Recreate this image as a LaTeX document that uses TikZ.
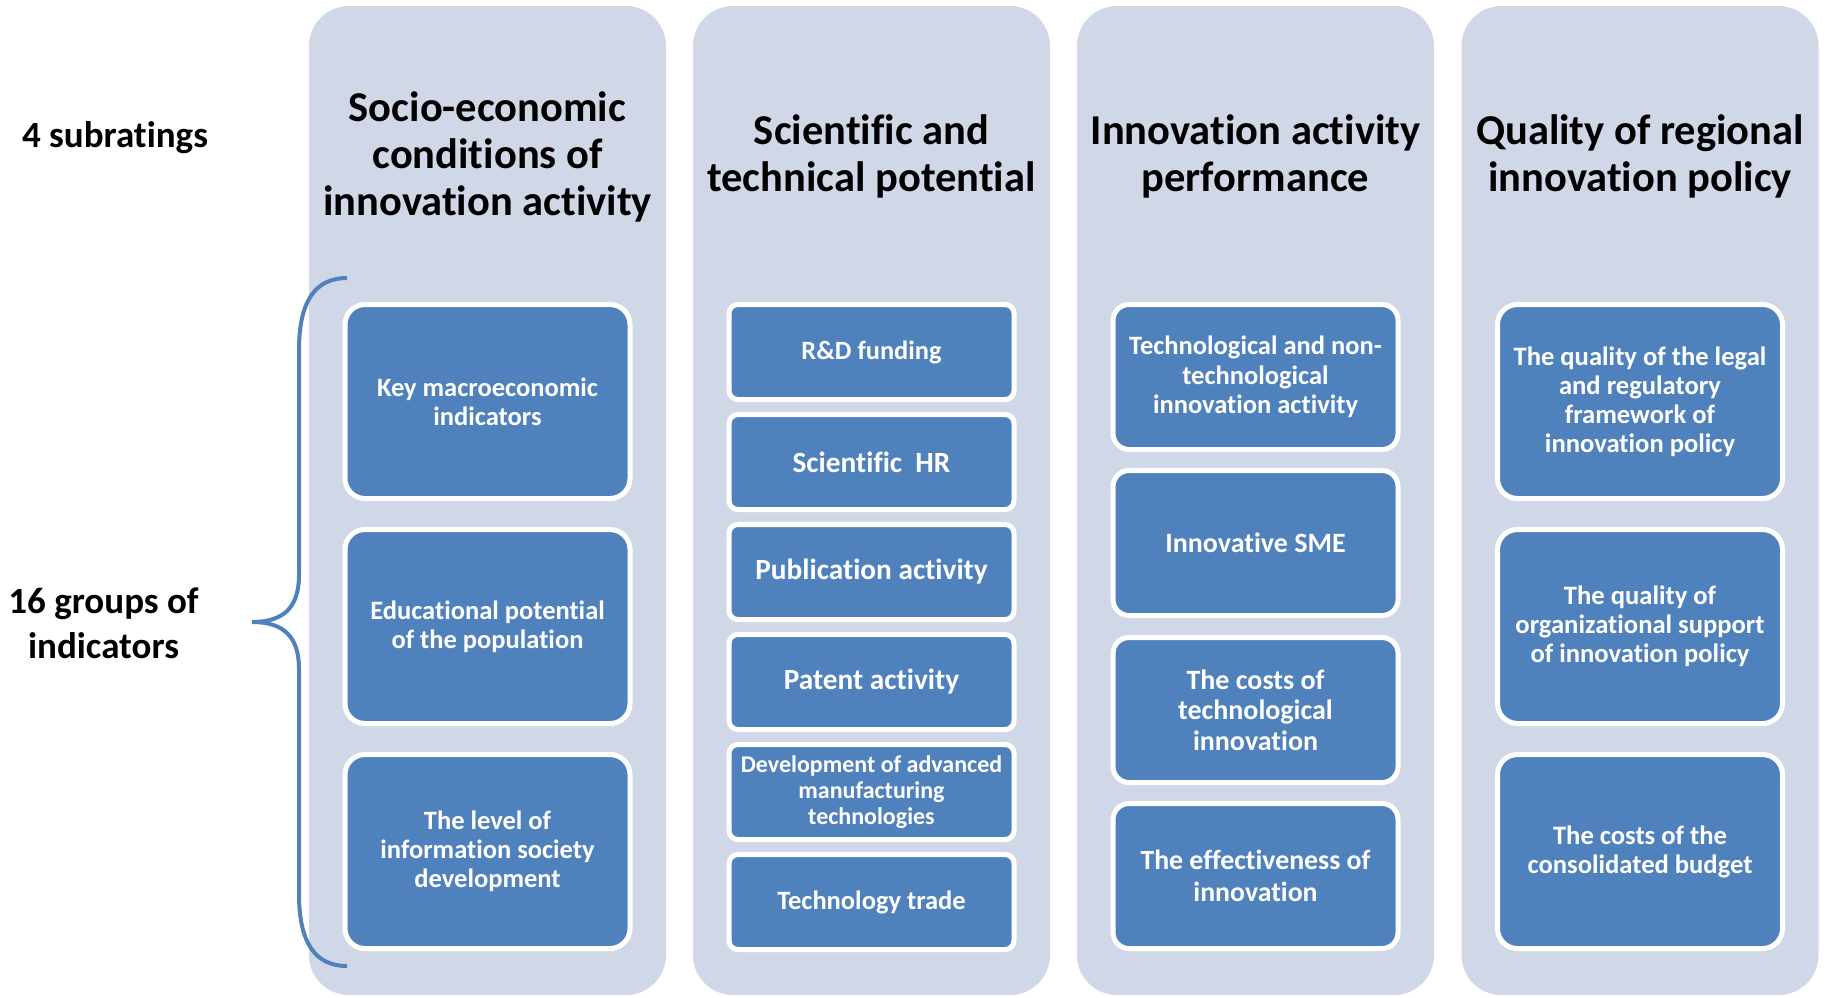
\documentclass[tikz,border=0pt]{standalone}
\usepackage{fontspec}
\setmainfont{Carlito}[Ligatures=NoCommon]
\definecolor{panelfill}{HTML}{D0D8E8}
\definecolor{cardfill}{HTML}{4F81BD}
\definecolor{bracecol}{HTML}{4F81BD}

\begin{document}
\begin{tikzpicture}[x=1pt,y=-1pt,
  panel/.style={rectangle, fill=panelfill, rounded corners=40pt,
    minimum width=357pt, minimum height=989pt, inner sep=0pt},
  heading/.style={align=center, inner sep=0pt,
    font=\bfseries\fontsize{42.5}{47}\selectfont},
  sidelabel/.style={align=center, inner sep=0pt,
    font=\bfseries\fontsize{37}{45}\selectfont},
  card/.style={rectangle, draw=white, line width=5pt, fill=cardfill,
    text=white, align=center, inner sep=0pt, minimum width=285pt},
  tall/.style={card, rounded corners=20pt, minimum height=194pt},
  mid/.style={card, rounded corners=16pt, minimum height=145pt},
  short/.style={card, rounded corners=9pt, minimum height=95pt},
  fs/.style 2 args={font=\bfseries\fontsize{#1}{#2}\selectfont}]

\useasboundingbox (0,0) rectangle (1825,997);

% column panels
\node[panel] (p1) at (487.5,500.5) {};
\node[panel] (p2) at (871.5,500.5) {};
\node[panel] (p3) at (1255.5,500.5) {};
\node[panel] (p4) at (1640,500.5) {};

% subrating headings
\node[heading] (h1) at (487.5,156.5) {Socio-economic\\conditions of\\innovation activity};
\node[heading] (h2) at (871.5,156.5) {Scientific and\\technical potential};
\node[heading] (h3) at (1255.5,156.5) {Innovation activity\\performance};
\node[heading] (h4) at (1640,156.5) {Quality of regional\\innovation policy};

% side labels
\node[sidelabel, anchor=base] (sub) at (115,147) {4 subratings};
\node[sidelabel] (grp) at (103.5,623.5) {16 groups of\\indicators};

% brace spanning the indicator groups
\draw[bracecol, line width=4pt]
  (347,278) .. controls (316,278) and (299,300) .. (299,350)
  -- (299,575) .. controls (299,606) and (285,622) .. (252,622)
  .. controls (285,622) and (299,638) .. (299,669)
  -- (299,894) .. controls (299,944) and (316,966) .. (347,966);

% column 1
\node[tall, fs={26.5}{29}] (a1) at (487.5,401.5) {Key macroeconomic\\indicators};
\node[tall, fs={26.5}{29}] (a2) at (487.5,626.5) {Educational potential\\of the population};
\node[tall, fs={26.5}{29}] (a3) at (487.5,851.5) {The level of\\information society\\development};

% column 2
\node[short, fs={26.4}{29}] (b1) at (871.5,352) {R\&D funding};
\node[short, fs={29.3}{32}] (b2) at (871.5,462) {Scientific\ \ HR};
\node[short, fs={29.3}{32}] (b3) at (871.5,572) {Publication activity};
\node[short, fs={29.3}{32}] (b4) at (871.5,682) {Patent activity};
\node[short, fs={24}{26}] (b5) at (871.5,792) {Development of advanced\\manufacturing\\technologies};
\node[short, fs={26.5}{29}] (b6) at (871.5,902) {Technology trade};

% column 3
\node[mid, fs={26.5}{29.5}] (c1) at (1255.5,377) {Technological and non-\\technological\\innovation activity};
\node[mid, fs={28}{31}] (c2) at (1255.5,543) {Innovative SME};
\node[mid, fs={28}{30.5}] (c3) at (1255.5,710) {The costs of\\technological\\innovation};
\node[mid, fs={27.8}{31.5}] (c4) at (1255.5,876) {The effectiveness of\\innovation};

% column 4
\node[tall, fs={26.6}{29}] (d1) at (1640,401.5) {The quality of the legal\\and regulatory\\framework of\\innovation policy};
\node[tall, fs={26.6}{29}] (d2) at (1640,626.5) {The quality of\\organizational support\\of innovation policy};
\node[tall, fs={26.6}{29}] (d3) at (1640,851.5) {The costs of the\\consolidated budget};

\end{tikzpicture}
\end{document}
